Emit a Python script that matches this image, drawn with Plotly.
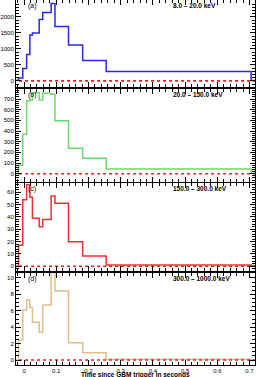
import plotly.graph_objects as go
from plotly.subplots import make_subplots

# bin edges (seconds since trigger)
edges = [-0.024, -0.017, -0.004, 0.008, 0.018, 0.026, 0.047, 0.058, 0.084, 0.096,
         0.138, 0.182, 0.255, 0.705, 0.717]

counts_a = [20, 94, 386, 823, 1438, 1500, 1917, 2136, 2417, 1698, 1125, 636, 292, 10]
counts_b = [0, 78, 369, 681, 690, 759, 690, 753, 744, 497, 238, 144, 44, 5]
counts_c = [0, 17, 54, 66, 56, 39, 32, 38, 57, 51, 20, 8.4, 1, 0.5]
counts_d = [0, 2.4, 6.1, 7.3, 6.4, 4.6, 3.4, 6.7, 11, 8.4, 2.1, 0.9, 0.1, 0.05]

panel_tags = ["(a)", "(b)", "(c)", "(d)"]
energy_labels = ["8.0 \u2013 20.0 keV", "20.0 \u2013 150.0 keV",
                 "150.0 \u2013 300.0 keV", "300.0 \u2013 1000.0 keV"]
x_ticks = [0, 0.1, 0.2, 0.3, 0.4, 0.5, 0.6, 0.7]
x_tick_text = ["0", "0.1", "0.2", "0.3", "0.4", "0.5", "0.6", "0.7"]

series = [counts_a, counts_b, counts_c, counts_d]
colors = ["rgb(40,40,235)", "rgb(110,215,110)", "rgb(235,50,50)", "rgb(225,190,140)"]
y_ranges = [[-190, 2530], [-78, 794], [-3.8, 67.5], [-0.6, 10.6]]
y_dticks = [500, 100, 10, 2]
y_minor = [100, 20, 2, 0.5]

H = 365.0
pix = [(0, 87), (89, 182), (183, 271), (273, 365)]
domains = [[(H - b) / H, (H - t) / H] for t, b in pix]

fig = make_subplots(rows=4, cols=1, shared_xaxes=True, vertical_spacing=0.0)
FONT = "Liberation Sans, Arial, sans-serif"

for i in range(4):
    r = i + 1
    vals = series[i]
    fig.add_trace(go.Scatter(x=edges, y=vals + [vals[-1]], mode="lines",
                             line=dict(color=colors[i], width=1.5, shape="hv"),
                             showlegend=False, hoverinfo="skip"), row=r, col=1)
    fig.add_trace(go.Scatter(x=[edges[0] - 0.01, edges[-1] + 0.01], y=[0, 0], mode="lines",
                             line=dict(color="rgb(235,30,30)", width=1.6, dash="dot"),
                             showlegend=False, hoverinfo="skip"), row=r, col=1)
    yname = "yaxis" if i == 0 else f"yaxis{r}"
    xname = "xaxis" if i == 0 else f"xaxis{r}"
    fig.layout[yname].update(domain=domains[i], range=y_ranges[i], dtick=y_dticks[i],
                             ticks="inside", ticklen=5, tickwidth=1, tickcolor="black",
                             minor=dict(ticks="inside", ticklen=3, dtick=y_minor[i], tickcolor="black"),
                             showline=True, linecolor="black", linewidth=1, mirror="ticks",
                             showgrid=False, zeroline=False, automargin=False,
                             tickfont=dict(size=6, color="black", family=FONT))
    fig.layout[xname].update(range=[-0.025, 0.717], tickvals=x_ticks, ticktext=x_tick_text,
                             ticks="inside", ticklen=5, tickwidth=1, tickcolor="black",
                             minor=dict(ticks="inside", ticklen=3, dtick=0.02, tickcolor="black"),
                             showline=True, linecolor="black", linewidth=1, mirror="ticks",
                             showgrid=False, zeroline=False, showticklabels=(i == 3),
                             automargin=False,
                             tickfont=dict(size=6, color="black", family=FONT))
    yref = "y" if i == 0 else f"y{r}"
    fig.add_annotation(text=panel_tags[i], xref=f"x{'' if i == 0 else r} domain",
                       yref=f"{yref} domain", x=0.04, y=1.0, xanchor="left", yanchor="top",
                       showarrow=False, font=dict(size=7, color="black", family=FONT))
    fig.add_annotation(text="<b>" + energy_labels[i] + "</b>", xref=f"x{'' if i == 0 else r} domain",
                       yref=f"{yref} domain", x=0.648, y=1.0, xanchor="left", yanchor="top",
                       showarrow=False, font=dict(size=6.5, color="black", family=FONT))

fig.add_annotation(text="<b>Time since GBM trigger in seconds</b>", xref="paper", yref="paper",
                   x=0.5, y=(H - 374.5) / H, xanchor="center", yanchor="middle", showarrow=False,
                   font=dict(size=6.5, color="black", family=FONT))

fig.update_layout(width=256, height=377, margin=dict(l=16, r=1, t=0, b=12),
                  paper_bgcolor="white", plot_bgcolor="white")
fig.write_html("out.html", config={"displayModeBar": False},
               post_script="document.body.style.margin='0px';document.body.style.overflow='hidden';")
